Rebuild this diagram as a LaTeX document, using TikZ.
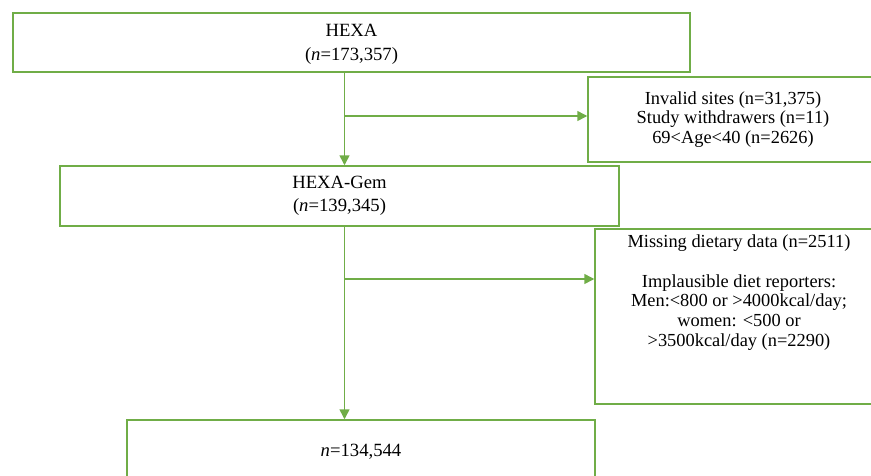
\documentclass[tikz,border=0pt]{standalone}
\usepackage{fontspec}
\setmainfont{Liberation Serif}
\usetikzlibrary{arrows.meta}
\definecolor{FGreen}{HTML}{70AD47}

\begin{document}
\begin{tikzpicture}[x=0.75pt,y=-0.75pt,
    mainbox/.style={rectangle,draw=FGreen,line width=1.1pt,align=center,inner sep=0pt,font=\fontsize{14}{17.5}\selectfont},
    sidebox/.style={mainbox,font=\fontsize{13.8}{14.8}\selectfont},
    flow/.style={draw=FGreen,line width=1.1pt,-{Triangle[length=7.5pt,width=7.5pt]}}]
        \useasboundingbox (0,0) rectangle (871,475);
        \clip (0,0) rectangle (871,475);
        \node[mainbox,minimum width=507.75pt,minimum height=44.25pt,text depth=0pt] (hx) at (351.5,42.5) {HEXA\\(\textit{n}=173,357)};
        \node[mainbox,minimum width=419.25pt,minimum height=45pt] (gem) at (339.5,196) {HEXA-Gem\\(\textit{n}=139,345)};
        \node[mainbox,minimum width=351pt,minimum height=48pt] (fin) at (361,452) {\textit{n}=134,544};
        \node[sidebox,minimum width=217.5pt,minimum height=63.75pt] (inv) at (733,119.5) {Invalid sites (n=31,375)\\Study withdrawers (n=11)\\69<Age<40 (n=2626)};
        \node[sidebox,minimum width=216pt,minimum height=131.25pt,text depth=39pt] (mis) at (739,316.5) {Missing dietary data (n=2511)\\[14.8pt]Implausible diet reporters:\\Men:<800 or >4000kcal/day;\\women: <500 or\\>3500kcal/day (n=2290)};
        \coordinate (b1) at (344.5,116);
        \coordinate (b2) at (344.5,279);
        \draw[flow] (b1 |- hx.south) -- (b1 |- gem.north);
        \draw[flow] (b1) -- (b1 -| inv.west);
        \draw[flow] (b2 |- gem.south) -- (b2 |- fin.north);
        \draw[flow] (b2) -- (b2 -| mis.west);
\end{tikzpicture}
\end{document}
